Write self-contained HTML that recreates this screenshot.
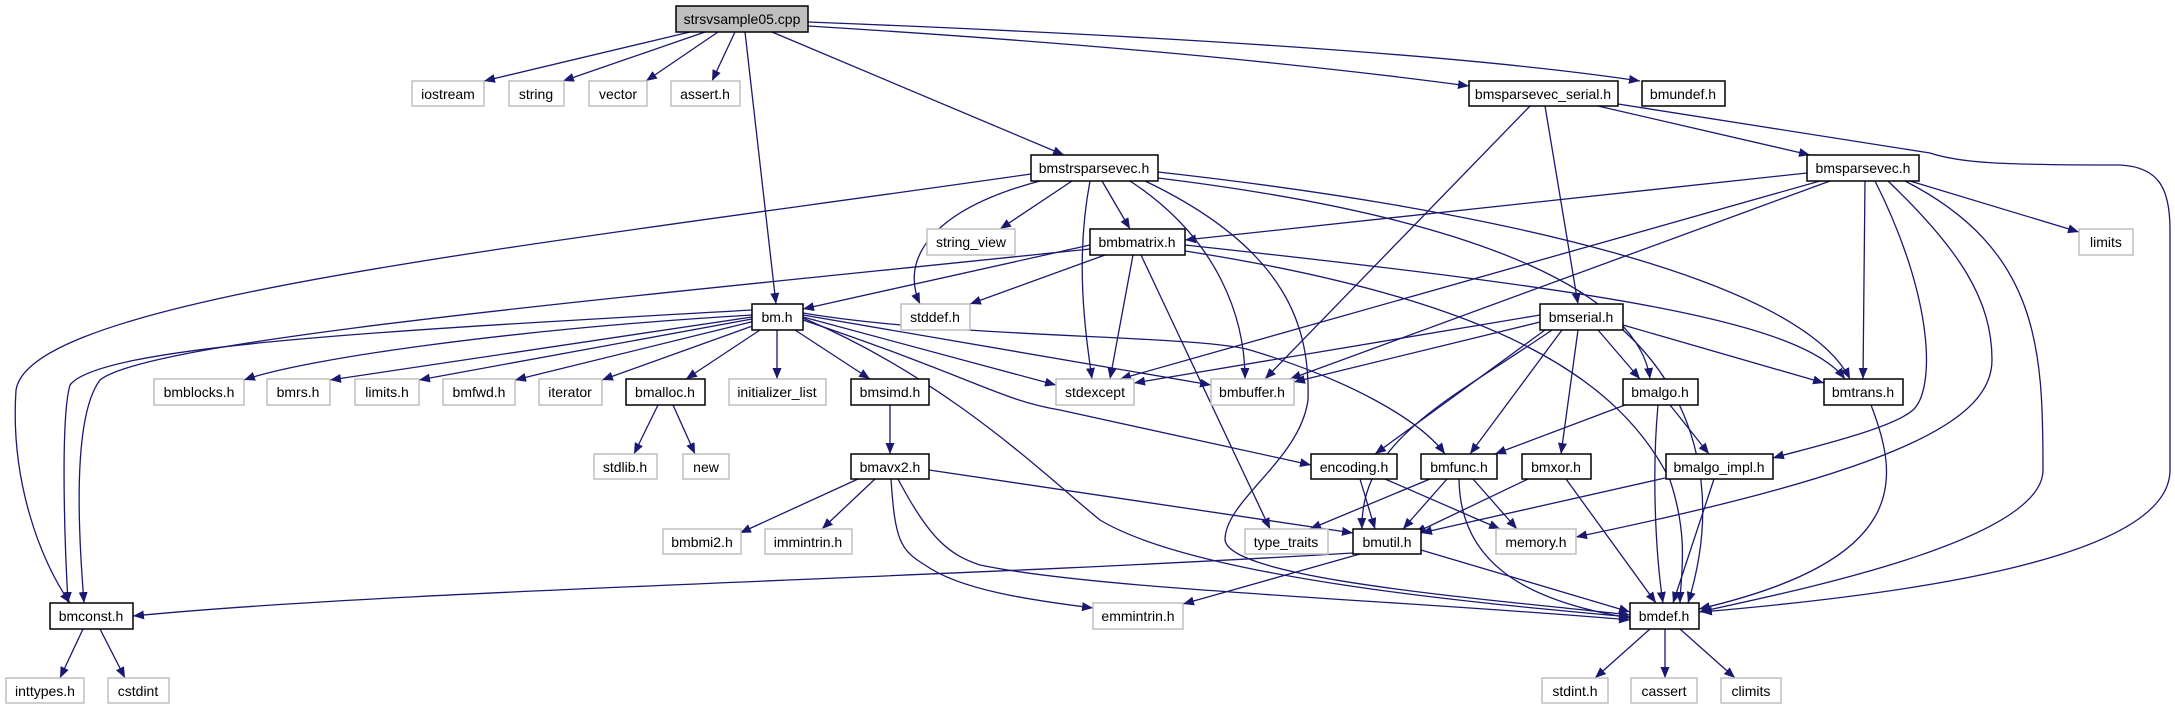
<!DOCTYPE html>
<html><head><meta charset="utf-8"><style>
html,body{margin:0;padding:0;background:#fff;}
svg{display:block}
text{font-family:"Liberation Sans",sans-serif;font-size:14px;fill:#000;text-anchor:middle}
.e{fill:none;stroke:#191970;stroke-width:1.3;marker-end:url(#a)}
.n{fill:#fff;stroke:#000;stroke-width:1.5}
.x{fill:#fff;stroke:#bfbfbf;stroke-width:1.5}
</style></head><body>
<svg width="2175" height="709" viewBox="0 0 2175 709" xmlns="http://www.w3.org/2000/svg">
<defs><marker id="a" markerUnits="userSpaceOnUse" markerWidth="12" markerHeight="9" refX="11" refY="4.5" orient="auto"><path d="M0,0 L11,4.5 L0,9 z" fill="#191970"/></marker></defs>
<g>
<!-- cpp -->
<path class="e" d="M690 32 L484 81"/>
<path class="e" d="M705 32 L563 81"/>
<path class="e" d="M718 32 L646 81"/>
<path class="e" d="M735 32 L712 81"/>
<path class="e" d="M745 32 L776 304"/>
<path class="e" d="M772 32 L1064 155"/>
<path class="e" d="M808 26 Q1200 50 1469 86"/>
<path class="e" d="M808 22 Q1400 45 1640 81"/>
<!-- bmsparsevec_serial -->
<path class="e" d="M1530 106 L1265 379"/>
<path class="e" d="M1545 106 L1578 304"/>
<path class="e" d="M1598 106 L1810 155"/>
<path class="e" d="M1618 104 L1930 153 C1960 163 2000 165 2120 165 C2160 167 2170 190 2170 230 L2170 470 C2170 560 1900 595 1701 612"/>
<!-- bmstrsparsevec -->
<path class="e" d="M1031 174 C500 250 30 300 16 390 C10 480 40 560 70 603"/>
<path class="e" d="M1072 181 L1000 229"/>
<path class="e" d="M1040 181 C930 210 900 260 920 304"/>
<path class="e" d="M1102 181 L1130 229"/>
<path class="e" d="M1090 181 C1075 260 1085 330 1092 379"/>
<path class="e" d="M1130 181 C1220 240 1245 320 1245 379"/>
<path class="e" d="M1145 181 C1290 250 1310 330 1308 400 C1300 460 1225 500 1225 540 C1230 580 1500 600 1630 615"/>
<path class="e" d="M1158 178 C1500 220 1640 300 1650 379"/>
<path class="e" d="M1158 172 C1500 210 1800 280 1850 379"/>
<!-- bmsparsevec -->
<path class="e" d="M1807 173 L1185 240"/>
<path class="e" d="M1820 181 L1120 379"/>
<path class="e" d="M1830 181 L1290 379"/>
<path class="e" d="M1865 181 L1863 379"/>
<path class="e" d="M1875 181 C1935 300 1935 390 1913 410 C1890 430 1800 450 1773 458"/>
<path class="e" d="M1888 181 C1960 250 1992 300 1992 360 C1992 420 1900 470 1576 537"/>
<path class="e" d="M1905 181 C2040 250 2043 350 2043 470 C2043 540 1800 590 1699 612"/>
<path class="e" d="M1910 181 L2079 232"/>
<!-- bmbmatrix -->
<path class="e" d="M1090 245 L803 309"/>
<path class="e" d="M1090 249 C600 300 150 340 100 380 C70 420 80 550 84 603"/>
<path class="e" d="M1105 255 L970 304"/>
<path class="e" d="M1133 255 L1110 379"/>
<path class="e" d="M1141 255 L1270 529"/>
<path class="e" d="M1185 245 C1600 290 1800 320 1845 379"/>
<path class="e" d="M1185 251 C1500 300 1620 380 1670 480 C1690 540 1680 580 1680 603"/>
<!-- bm.h -->
<path class="e" d="M752 310 C400 330 100 345 70 385 C60 420 65 550 68 603"/>
<path class="e" d="M752 315 C500 330 300 360 244 380"/>
<path class="e" d="M752 317 L330 380"/>
<path class="e" d="M752 319 L419 380"/>
<path class="e" d="M755 321 L515 380"/>
<path class="e" d="M758 324 L602 380"/>
<path class="e" d="M760 330 L686 379"/>
<path class="e" d="M777 330 L777 379"/>
<path class="e" d="M795 330 L870 379"/>
<path class="e" d="M803 317 L1056 385"/>
<path class="e" d="M803 315 L1211 385"/>
<path class="e" d="M803 320 C980 380 1000 400 1060 410 L1311 465"/>
<path class="e" d="M803 313 C950 338 1200 335 1250 350 C1350 380 1420 420 1445 454"/>
<path class="e" d="M803 318 C950 380 1050 480 1100 520 C1200 580 1500 605 1630 617"/>
<!-- lower -->
<path class="e" d="M890 405 L890 454"/>
<path class="e" d="M658 405 L634 454"/>
<path class="e" d="M673 405 L695 454"/>
<path class="e" d="M858 479 L740 533"/>
<path class="e" d="M875 479 L822 529"/>
<path class="e" d="M891 479 C895 540 900 550 925 565 C960 590 1030 600 1093 608"/>
<path class="e" d="M929 470 L1353 533"/>
<path class="e" d="M898 479 C930 540 950 555 980 565 C1100 590 1400 600 1630 620"/>
<path class="e" d="M1360 479 L1375 529"/>
<path class="e" d="M1385 479 L1500 529"/>
<path class="e" d="M1430 479 L1310 529"/>
<path class="e" d="M1447 479 L1403 529"/>
<path class="e" d="M1473 479 L1517 529"/>
<path class="e" d="M1459 479 C1460 560 1520 600 1630 618"/>
<path class="e" d="M1528 479 L1415 533"/>
<path class="e" d="M1566 479 L1656 603"/>
<path class="e" d="M1625 405 L1495 454"/>
<path class="e" d="M1670 405 L1709 454"/>
<path class="e" d="M1658 405 C1652 470 1655 550 1663 603"/>
<path class="e" d="M1665 478 L1421 533"/>
<path class="e" d="M1714 479 L1673 603"/>
<path class="e" d="M1871 405 C1900 480 1910 560 1699 609"/>
<!-- bmserial -->
<path class="e" d="M1540 322 L1294 382"/>
<path class="e" d="M1540 315 L1134 383"/>
<path class="e" d="M1545 330 L1375 454"/>
<path class="e" d="M1562 330 L1470 454"/>
<path class="e" d="M1578 330 L1561 454"/>
<path class="e" d="M1598 330 L1640 379"/>
<path class="e" d="M1623 325 L1824 383"/>
<path class="e" d="M1552 330 C1450 400 1360 440 1362 529"/>
<path class="e" d="M1623 330 C1700 400 1720 500 1688 603"/>
<!-- bmutil, bmconst, bmdef -->
<path class="e" d="M1353 553 C900 580 400 590 133 616"/>
<path class="e" d="M1360 554 L1183 604"/>
<path class="e" d="M1421 550 L1630 612"/>
<path class="e" d="M83 629 L60 678"/>
<path class="e" d="M100 629 L125 678"/>
<path class="e" d="M1650 629 L1595 678"/>
<path class="e" d="M1665 629 L1665 678"/>
<path class="e" d="M1680 629 L1735 678"/>
</g>
<g>
<rect x="676" y="6" width="132" height="26" fill="#bfbfbf" stroke="#000" stroke-width="1.5"/><text x="742" y="24">strsvsample05.cpp</text>
<rect class="x" x="412" y="81" width="72" height="25"/><text x="448" y="99">iostream</text>
<rect class="x" x="509" y="81" width="55" height="25"/><text x="536" y="99">string</text>
<rect class="x" x="589" y="81" width="58" height="25"/><text x="618" y="99">vector</text>
<rect class="x" x="671" y="81" width="69" height="25"/><text x="705" y="99">assert.h</text>
<rect class="n" x="1469" y="81" width="149" height="25"/><text x="1543" y="99">bmsparsevec_serial.h</text>
<rect class="n" x="1642" y="81" width="83" height="25"/><text x="1683" y="99">bmundef.h</text>
<rect class="n" x="1031" y="155" width="127" height="26"/><text x="1094" y="173">bmstrsparsevec.h</text>
<rect class="n" x="1807" y="155" width="112" height="26"/><text x="1863" y="173">bmsparsevec.h</text>
<rect class="x" x="927" y="229" width="88" height="26"/><text x="971" y="247">string_view</text>
<rect class="n" x="1090" y="229" width="95" height="26"/><text x="1137" y="247">bmbmatrix.h</text>
<rect class="x" x="2079" y="229" width="54" height="26"/><text x="2106" y="247">limits</text>
<rect class="n" x="752" y="304" width="51" height="26"/><text x="777" y="322">bm.h</text>
<rect class="x" x="901" y="304" width="69" height="26"/><text x="935" y="322">stddef.h</text>
<rect class="n" x="1540" y="304" width="83" height="26"/><text x="1581" y="322">bmserial.h</text>
<rect class="x" x="154" y="379" width="90" height="26"/><text x="199" y="397">bmblocks.h</text>
<rect class="x" x="267" y="379" width="63" height="26"/><text x="298" y="397">bmrs.h</text>
<rect class="x" x="355" y="379" width="64" height="26"/><text x="387" y="397">limits.h</text>
<rect class="x" x="443" y="379" width="72" height="26"/><text x="479" y="397">bmfwd.h</text>
<rect class="x" x="539" y="379" width="63" height="26"/><text x="570" y="397">iterator</text>
<rect class="n" x="626" y="379" width="79" height="26"/><text x="665" y="397">bmalloc.h</text>
<rect class="x" x="729" y="379" width="97" height="26"/><text x="777" y="397">initializer_list</text>
<rect class="n" x="851" y="379" width="78" height="26"/><text x="890" y="397">bmsimd.h</text>
<rect class="x" x="1056" y="379" width="78" height="26"/><text x="1095" y="397">stdexcept</text>
<rect class="x" x="1211" y="379" width="83" height="26"/><text x="1252" y="397">bmbuffer.h</text>
<rect class="n" x="1623" y="379" width="75" height="26"/><text x="1660" y="397">bmalgo.h</text>
<rect class="n" x="1824" y="379" width="79" height="26"/><text x="1863" y="397">bmtrans.h</text>
<rect class="x" x="594" y="454" width="63" height="25"/><text x="625" y="472">stdlib.h</text>
<rect class="x" x="683" y="454" width="46" height="25"/><text x="706" y="472">new</text>
<rect class="n" x="851" y="454" width="78" height="25"/><text x="890" y="472">bmavx2.h</text>
<rect class="n" x="1311" y="454" width="86" height="25"/><text x="1354" y="472">encoding.h</text>
<rect class="n" x="1421" y="454" width="76" height="25"/><text x="1459" y="472">bmfunc.h</text>
<rect class="n" x="1522" y="454" width="69" height="25"/><text x="1556" y="472">bmxor.h</text>
<rect class="n" x="1666" y="454" width="107" height="25"/><text x="1719" y="472">bmalgo_impl.h</text>
<rect class="x" x="663" y="529" width="78" height="25"/><text x="702" y="547">bmbmi2.h</text>
<rect class="x" x="765" y="529" width="87" height="25"/><text x="808" y="547">immintrin.h</text>
<rect class="x" x="1245" y="529" width="83" height="25"/><text x="1286" y="547">type_traits</text>
<rect class="n" x="1353" y="529" width="68" height="25"/><text x="1387" y="547">bmutil.h</text>
<rect class="x" x="1496" y="529" width="80" height="25"/><text x="1536" y="547">memory.h</text>
<rect class="n" x="50" y="603" width="83" height="26"/><text x="91" y="621">bmconst.h</text>
<rect class="x" x="1093" y="603" width="90" height="26"/><text x="1138" y="621">emmintrin.h</text>
<rect class="n" x="1630" y="603" width="69" height="26"/><text x="1664" y="621">bmdef.h</text>
<rect class="x" x="6" y="678" width="78" height="25"/><text x="45" y="696">inttypes.h</text>
<rect class="x" x="108" y="678" width="61" height="25"/><text x="138" y="696">cstdint</text>
<rect class="x" x="1542" y="678" width="66" height="25"/><text x="1575" y="696">stdint.h</text>
<rect class="x" x="1631" y="678" width="66" height="25"/><text x="1664" y="696">cassert</text>
<rect class="x" x="1721" y="678" width="60" height="25"/><text x="1751" y="696">climits</text>
</g>
</svg>
</body></html>
